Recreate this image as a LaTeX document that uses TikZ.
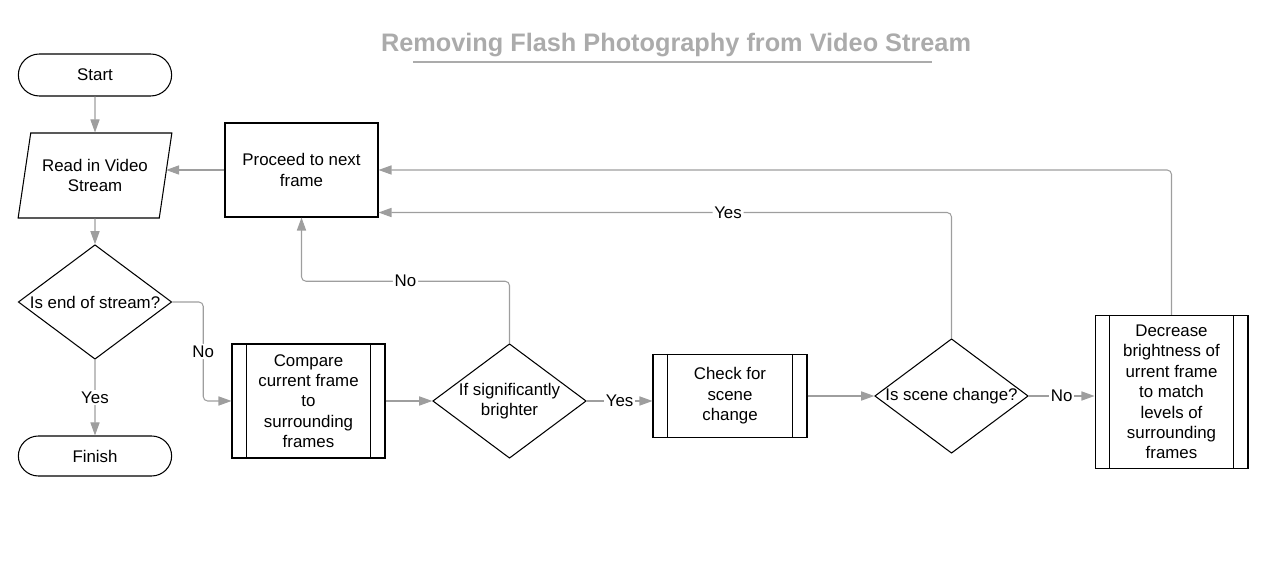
\documentclass[tikz,border=0pt]{standalone}
\usepackage{fontspec}
\setmainfont{Liberation Sans}
\usetikzlibrary{shapes.geometric,shapes.misc,arrows.meta}
\definecolor{linkgray}{HTML}{9E9E9E}
\definecolor{titlegray}{HTML}{ABABAB}
\begin{document}
\begin{tikzpicture}[x=0.02cm, y=-0.02cm,
		every node/.style={font=\fontsize{9.6}{11.6}\selectfont},
		terminal/.style={draw, rounded rectangle, line width=0.6pt, minimum width=3.3cm, minimum height=0.84cm},
		inout/.style={draw, trapezium, trapezium left angle=75.5, trapezium right angle=104.5, trapezium stretches=true, line width=0.6pt, minimum width=3.08cm, minimum height=1.7cm, align=center},
		decision/.style={draw, diamond, line width=0.6pt, minimum width=3.07cm, minimum height=2.29cm, inner sep=0pt},
		process/.style={draw, rectangle, line width=0.6pt, inner sep=2pt, align=center},
		link/.style={draw=linkgray, line width=0.6pt, -{Triangle[length=7.4pt, width=5.2pt, fill=linkgray]}},
		elbow/.style={link, rounded corners=2.5pt},
		lbl/.style={fill=white, inner sep=1pt}]
	\useasboundingbox (0,0) rectangle (1278,573);
	% title
	\node[font=\fontsize{14.4}{17}\selectfont\bfseries, text=titlegray] (title) at (676,45) {Removing Flash Photography from Video Stream};
	\draw[titlegray, line width=1.1pt] (413,62) -- (932,62);
	% left column
	\node[terminal] (start) at (95,75) {Start};
	\node[inout] (read) at (95,175.5) {Read in Video\\Stream};
	\node[decision, label={center:Is end of stream?}] (endq) at (95,302) {};
	\node[terminal, minimum height=0.8cm] (finish) at (95,456) {Finish};
	% boxes
	\node[process, minimum width=3.06cm, minimum height=1.88cm] (proceed) at (301.5,170) {Proceed to next\\frame};
	\node[process, minimum width=3.06cm, minimum height=2.28cm] (compare) at (308.5,401) {Compare\\current frame\\to\\surrounding\\frames};
	\node[decision, label={[align=center]center:If significantly\\brighter}] (bright) at (509.5,401) {};
	\node[process, minimum width=3.08cm, minimum height=1.66cm] (check) at (730,396) {Check for\\scene\\change};
	\node[decision, label={center:Is scene change?}] (scene) at (951.5,396) {};
	\node[process, minimum width=3.06cm, minimum height=3.06cm] (dimmer) at (1171.5,392) {Decrease\\brightness of\\urrent frame\\to match\\levels of\\surrounding\\frames};
	\foreach \n in {compare, check, dimmer}
		\draw[line width=0.6pt] ([xshift=0.3cm]\n.north west) -- ([xshift=0.3cm]\n.south west)
			([xshift=-0.3cm]\n.north east) -- ([xshift=-0.3cm]\n.south east);
	% connectors
	\draw[link] (start) -- (read);
	\draw[link] (read) -- (endq);
	\draw[link] (endq) -- node[lbl]{Yes} (finish);
	\draw[elbow] (endq.east) -- ++(31,0) |- node[lbl, pos=0.25]{No} (compare.west);
	\draw[link] (compare) -- (bright);
	\draw[link] (bright.east) -- node[lbl]{Yes} (bright.east -| check.west);
	\draw[link] (check) -- (scene);
	\draw[link] (scene.east) -- node[lbl]{No} (scene.east -| dimmer.west);
	\draw[elbow] (bright.north) -- ++(0,-62) -| node[lbl, pos=0.25]{No} (proceed.south);
	\draw[elbow] (scene.north) |- node[lbl, pos=0.695]{Yes} ([yshift=0.1cm]proceed.south east);
	\draw[elbow] (dimmer.north) |- (proceed.east);
	\draw[link] (proceed.west) -- (proceed.west -| read.east);
\end{tikzpicture}
\end{document}
